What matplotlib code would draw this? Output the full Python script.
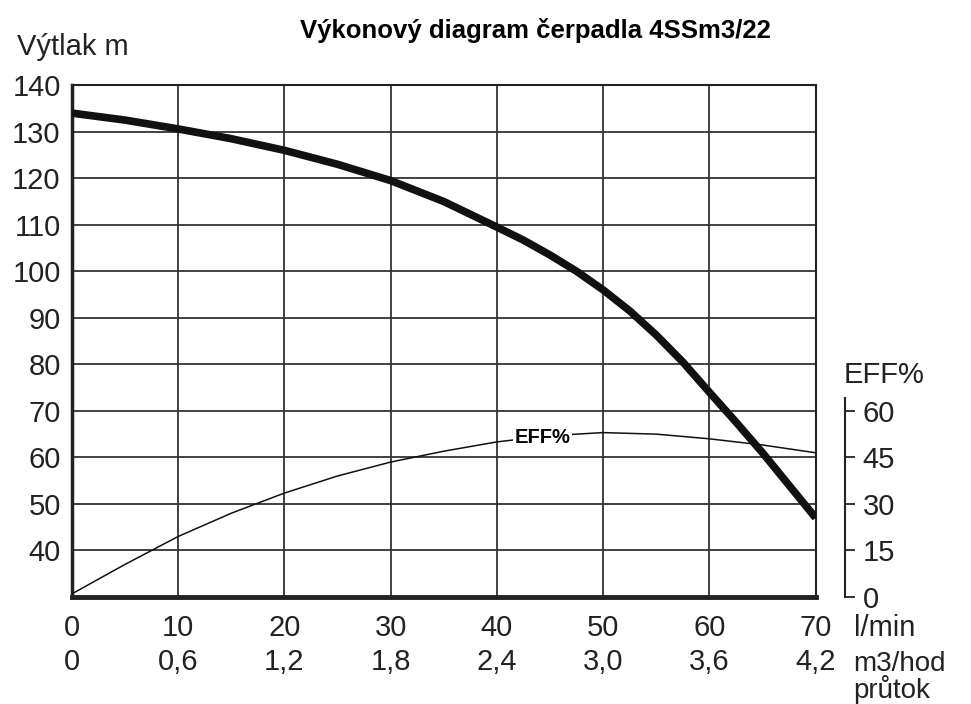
import matplotlib.pyplot as plt
from matplotlib.ticker import FuncFormatter

plt.rcParams['font.family'] = ['Liberation Sans', 'DejaVu Sans']

# prutok l/min
flow = [0, 5, 10, 15, 20, 25, 30, 35, 40, 42.5, 45, 47.5, 50, 52.5, 55, 57.5, 60, 62.5, 65, 67.5, 70]
# vytlak m
head = [134, 132.5, 130.6, 128.5, 126, 123, 119.5, 115, 109.5, 106.7, 103.5, 100, 96, 91.5, 86.3,
        80.5, 74, 67.6, 61, 54, 47]
# ucinnost %
eff_flow = [0, 5, 10, 15, 20, 25, 30, 35, 40, 45, 50, 55, 60, 65, 70]
eff = [1, 10.5, 19.5, 27, 33.5, 39, 43.5, 47, 50, 52, 53, 52.5, 51, 49, 46.5]

xticks = [0, 10, 20, 30, 40, 50, 60, 70]
yticks = [40, 50, 60, 70, 80, 90, 100, 110, 120, 130, 140]
eff_ticks = [0, 15, 30, 45, 60]

fig = plt.figure(figsize=(9.71, 7.04), dpi=100)
ax = fig.add_axes([0.074, 0.152, 0.766, 0.727])

ax.plot(flow, head, color='#111111', lw=5.5, solid_capstyle='butt', solid_joinstyle='round', zorder=4)

ax.set_xlim(0, 70)
ax.set_ylim(30, 140)
ax.set_xticks(xticks)
ax.set_yticks(yticks)
ax.grid(True, color='#333333', lw=1.3)
ax.tick_params(length=0, labelsize=21, colors='#222222')
ax.tick_params(axis='x', pad=12)
ax.tick_params(axis='y', pad=8)
for s in ['top', 'right']:
    ax.spines[s].set_linewidth(1.5)
ax.spines['left'].set_linewidth(2.5)
ax.spines['bottom'].set_linewidth(3.5)
for s in ax.spines.values():
    s.set_color('#222222')

# druha osa x v m3/hod
sec = ax.secondary_xaxis(-0.068, functions=(lambda x: x * 0.06, lambda x: x / 0.06))
sec.set_xticks([t * 0.06 for t in xticks])
sec.xaxis.set_major_formatter(FuncFormatter(lambda v, p: '0' if abs(v) < 1e-9 else ('%.1f' % v).replace('.', ',')))
sec.tick_params(length=0, labelsize=21, colors='#222222', pad=12)
sec.spines['bottom'].set_visible(False)

# osa ucinnosti
ax2 = ax.twinx()
ax2.set_ylim(0, (140 - 30) * 1.5)
ax2.plot(eff_flow, eff, color='#111111', lw=1.1, zorder=3)
ax2.text(44.3, 51.5, 'EFF%', fontsize=14.5, fontweight='bold', ha='center', va='center',
         bbox=dict(facecolor='white', edgecolor='none', pad=1), zorder=5)
ax2.set_yticks(eff_ticks)
ax2.spines['right'].set_position(('outward', 21))
ax2.spines['right'].set_bounds(0, 64)
ax2.spines['right'].set_linewidth(1.5)
ax2.spines['right'].set_color('#222222')
for s in ['top', 'left', 'bottom']:
    ax2.spines[s].set_visible(False)
ax2.tick_params(axis='y', length=7, width=1.3, labelsize=21, colors='#222222', pad=6)

fig.text(0.551, 0.957, 'Výkonový diagram čerpadla 4SSm3/22', fontsize=18.5, fontweight='bold',
         ha='center', va='center')
fig.text(0.0175, 0.933, 'Výtlak m', fontsize=21, ha='left', va='center', color='#222222')
fig.text(0.869, 0.467, 'EFF%', fontsize=21, ha='left', va='center', color='#222222')
fig.text(0.879, 0.108, 'l/min', fontsize=21, ha='left', va='center', color='#222222')
fig.text(0.879, 0.047, 'm3/hod', fontsize=20, ha='left', va='baseline', color='#222222')
fig.text(0.879, 0.009, 'průtok', fontsize=20, ha='left', va='baseline', color='#222222')

fig.savefig('out.png', dpi=100)
